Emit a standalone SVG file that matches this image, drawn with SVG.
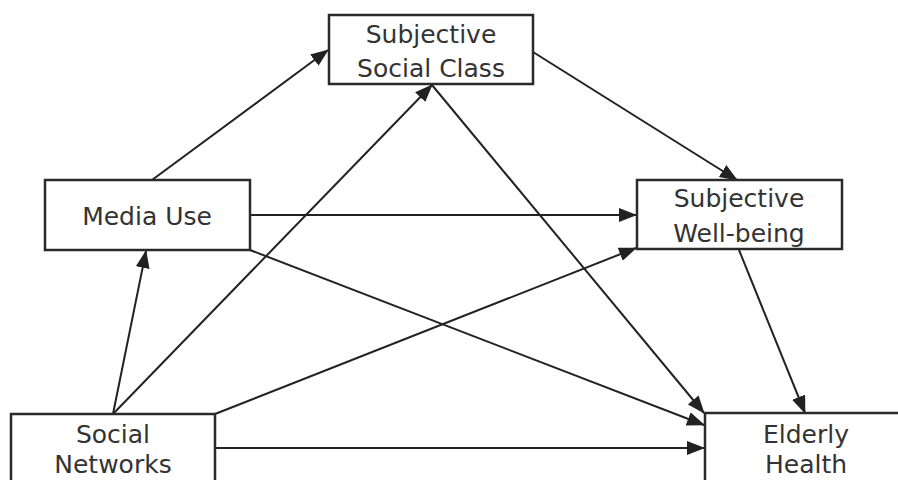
<svg xmlns="http://www.w3.org/2000/svg" width="898" height="480" viewBox="0 0 898 480">
<style>
.box{fill:#fff;stroke:#2a2a2a;stroke-width:2.5}
.lbl{font-family:"DejaVu Sans","Noto Sans",sans-serif;font-size:25px;fill:#333;text-anchor:middle}
.edge{stroke:#222;stroke-width:2;fill:none;marker-end:url(#ah)}
</style>
<defs>
<marker id="ah" markerUnits="userSpaceOnUse" markerWidth="18" markerHeight="14" refX="17" refY="7" orient="auto">
<path d="M0,0 L18,7 L0,14 z" fill="#222"/>
</marker>
</defs>
<rect width="898" height="480" fill="#fff"/>
<g id="connectors">
<line class="edge" x1="152" y1="180" x2="328" y2="50"/>
<line class="edge" x1="113" y1="414" x2="146" y2="251"/>
<line class="edge" x1="113" y1="414" x2="432" y2="85"/>
<line class="edge" x1="533" y1="52" x2="737" y2="180"/>
<line class="edge" x1="432" y1="85" x2="704" y2="413"/>
<line class="edge" x1="250" y1="215" x2="636" y2="215"/>
<line class="edge" x1="250" y1="250" x2="704" y2="425"/>
<line class="edge" x1="215" y1="414" x2="636" y2="248"/>
<line class="edge" x1="215" y1="448" x2="704" y2="448"/>
<line class="edge" x1="739" y1="250" x2="805" y2="413"/>
</g>
<g id="ssc">
<rect class="box" x="329" y="15" width="204" height="69"/>
<text class="lbl" x="431" y="43">Subjective</text>
<text class="lbl" x="431" y="77">Social Class</text>
</g>
<g id="media">
<rect class="box" x="45" y="180" width="205" height="70"/>
<text class="lbl" x="147" y="225">Media Use</text>
</g>
<g id="swb">
<rect class="box" x="637" y="180" width="205" height="69"/>
<text class="lbl" x="739" y="207">Subjective</text>
<text class="lbl" x="739" y="242">Well-being</text>
</g>
<g id="sn">
<rect class="box" x="11" y="414" width="204" height="80"/>
<text class="lbl" x="113" y="443">Social</text>
<text class="lbl" x="113" y="473">Networks</text>
</g>
<g id="eh">
<rect class="box" x="705" y="413" width="210" height="80"/>
<text class="lbl" x="806" y="443">Elderly</text>
<text class="lbl" x="806" y="473">Health</text>
</g>
</svg>
